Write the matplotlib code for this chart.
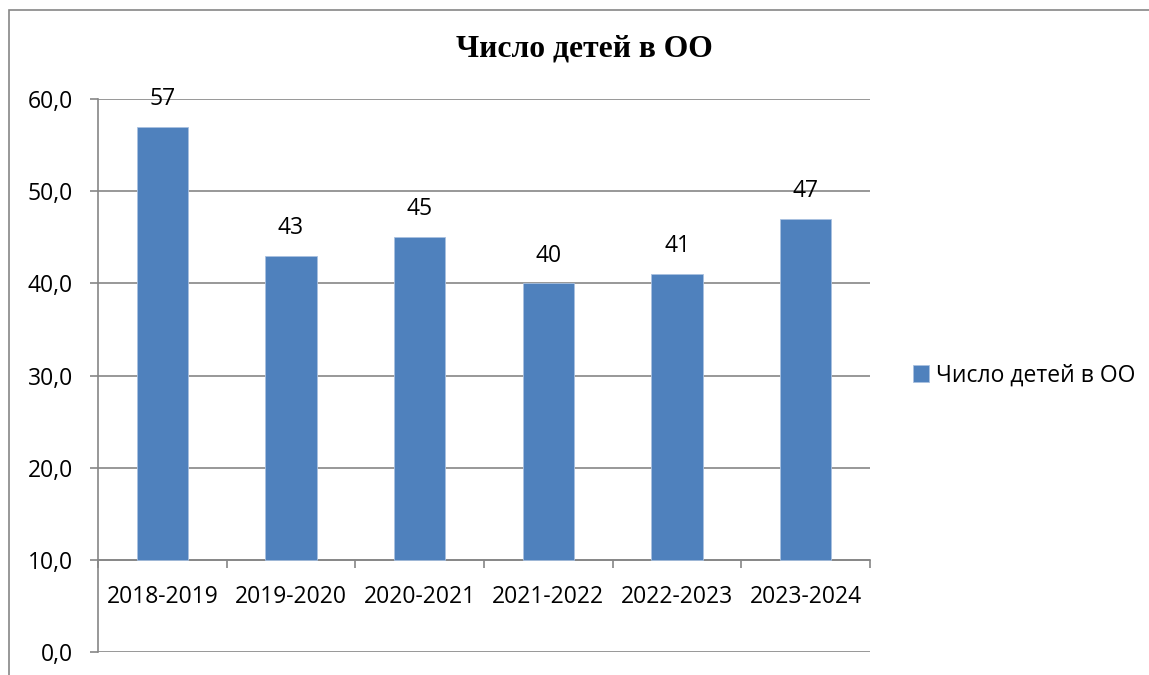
import matplotlib
matplotlib.use('Agg')
import matplotlib.pyplot as plt
from matplotlib.patches import Rectangle
from matplotlib.ticker import FixedLocator, FuncFormatter

# data
years = ['2018-2019', '2019-2020', '2020-2021', '2021-2022', '2022-2023', '2023-2024']
children = [57, 43, 45, 40, 41, 47]
series_name = 'Число детей в ОО'
axis_cross = 10  # horizontal axis crosses the value axis at 10

BAR_COLOR = '#4F81BD'
GRID_COLOR = '#868686'

plt.rcParams['font.family'] = ['Open Sans', 'DejaVu Sans']

fig = plt.figure(figsize=(11.49, 6.75), dpi=100)
ax = fig.add_axes([0.0853, 0.0341, 0.6719, 0.8192])

x = list(range(len(years)))
bars = ax.bar(x, [v - axis_cross for v in children], bottom=axis_cross, width=0.4,
              color=BAR_COLOR, edgecolor='#a9c1e0', linewidth=0.6, zorder=3,
              label=series_name)

# value labels above bars
for xi, v in zip(x, children):
    ax.annotate(str(v), (xi, v), xytext=(0, 20), textcoords='offset points',
                ha='center', va='center', fontsize=16.5, color='black')

ax.set_xlim(-0.5, len(years) - 0.5)
ax.set_ylim(0, 60)

# y axis
ax.set_yticks(range(0, 61, 10))
ax.yaxis.set_major_formatter(FuncFormatter(lambda v, p: f'{v:.1f}'.replace('.', ',')))
ax.tick_params(axis='y', length=6, width=1.2, color=GRID_COLOR, pad=12, labelsize=16.5)
ax.grid(axis='y', color=GRID_COLOR, linewidth=1.2, zorder=0)

# x axis sits at y=10
ax.spines['bottom'].set_position(('data', axis_cross))
ax.set_xticks(x)
ax.set_xticklabels(years)
ax.xaxis.set_minor_locator(FixedLocator([i - 0.5 for i in range(len(years) + 1)]))
ax.tick_params(axis='x', which='major', length=0, pad=18, labelsize=16.5)
ax.tick_params(axis='x', which='minor', length=6, width=1.2, color=GRID_COLOR)

for s in ['top', 'right']:
    ax.spines[s].set_visible(False)
for s in ['left', 'bottom']:
    ax.spines[s].set_color(GRID_COLOR)
    ax.spines[s].set_linewidth(1.2)

fig.text(0.509, 0.927, series_name, ha='center', va='center',
         fontsize=22.8, fontweight='bold', family='Liberation Serif')

ax.legend(loc='center left', bbox_to_anchor=(1.044, 0.5), frameon=False,
          fontsize=16.5, handlelength=0.7, handleheight=0.7, handletextpad=0.3,
          borderaxespad=0)

# outer chart border (only left and top visible)
fig.patches.append(Rectangle((9 / 1149, -0.1), 1.2, 0.1 + (1 - 10 / 675),
                             transform=fig.transFigure, fill=False,
                             edgecolor=GRID_COLOR, linewidth=1.2))

fig.savefig('out.png', dpi=100)
